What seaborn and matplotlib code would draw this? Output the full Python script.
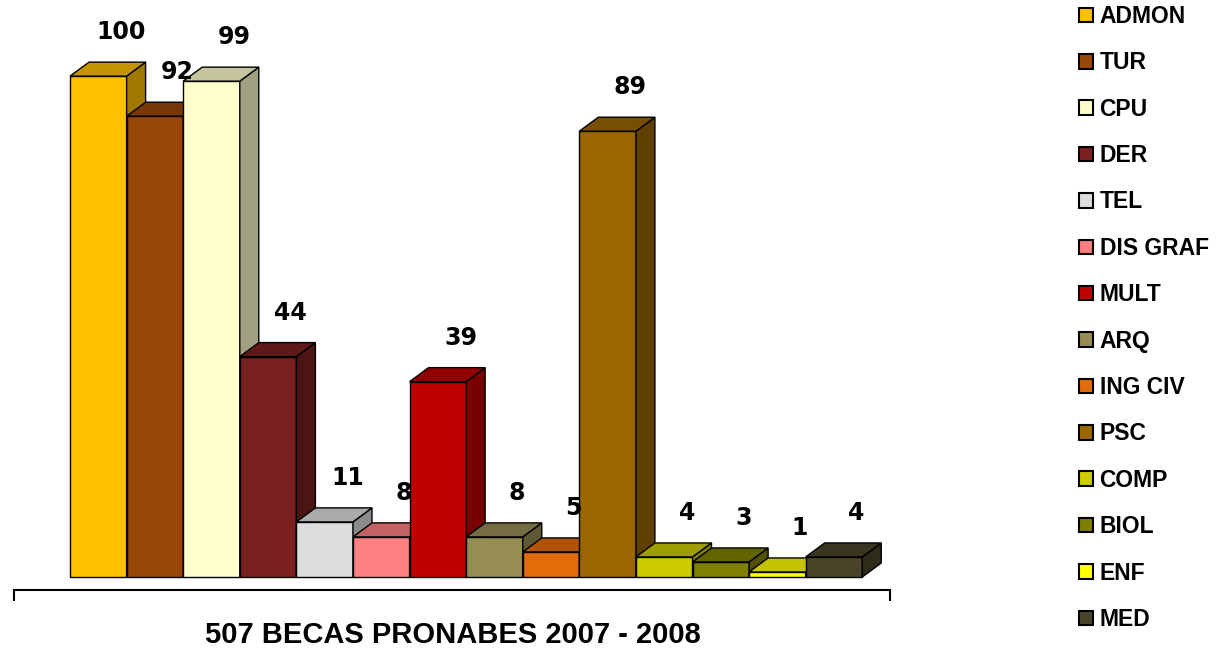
import numpy as np
import pandas as pd
import matplotlib
matplotlib.use('Agg')
import matplotlib.pyplot as plt
import seaborn as sns
from matplotlib.patches import Polygon
from matplotlib.colors import to_rgb

carreras = ['ADMON', 'TUR', 'CPU', 'DER', 'TEL', 'DIS GRAF', 'MULT',
            'ARQ', 'ING CIV', 'PSC', 'COMP', 'BIOL', 'ENF', 'MED']
becas = [100, 92, 99, 44, 11, 8, 39, 8, 5, 89, 4, 3, 1, 4]
colores = ['#FFC000', '#994709', '#FFFFCC', '#7B2020', '#DDDDDD', '#FF8080', '#C00000',
           '#968C56', '#E36C0A', '#996600', '#CCCC00', '#808000', '#FFFF00', '#4A452A']
titulo = '507 BECAS PRONABES 2007 - 2008'

letra = ['Liberation Sans', 'DejaVu Sans']

sns.set_style('white')
plt.rcParams['text.color'] = 'black'
W, H = 1218, 650
fig = plt.figure(figsize=(W / 100, H / 100), dpi=100)
ax = fig.add_axes([14 / W, 60 / H, 876 / W, 590 / H])

df = pd.DataFrame({'carrera': carreras, 'becas': becas})
sns.barplot(data=df, x='carrera', y='becas', hue='carrera', palette=colores,
            saturation=1, width=1.0, edgecolor='black', linewidth=1,
            legend=True, ax=ax)

xmin, xmax = -1.49, 13.99
ymin, ymax = -2.6, 115.2
ax.set_xlim(xmin, xmax)
ax.set_ylim(ymin, ymax)

# profundidad del efecto 3D (en pixeles -> unidades de datos)
dx = 19 / (876 / (xmax - xmin))
dy = 14 / (590 / (ymax - ymin))


def oscuro(c, f):
    r, g, b = to_rgb(c)
    return (r * f, g * f, b * f)


barras = [p for cont in ax.containers for p in cont]
barras = sorted(barras, key=lambda p: p.get_x())
for i, (p, c, v) in enumerate(zip(barras, colores, becas)):
    x0, w, h = p.get_x(), p.get_width(), p.get_height()
    p.set_zorder(3 + 3 * i)
    tapa = Polygon([(x0, h), (x0 + dx, h + dy), (x0 + w + dx, h + dy), (x0 + w, h)],
                   closed=True, fc=oscuro(c, 0.77), ec='black', lw=1, zorder=4 + 3 * i)
    lado = Polygon([(x0 + w, 0), (x0 + w, h), (x0 + w + dx, h + dy), (x0 + w + dx, dy)],
                   closed=True, fc=oscuro(c, 0.63), ec='black', lw=1, zorder=4 + 3 * i)
    ax.add_patch(lado)
    ax.add_patch(tapa)
    ax.text(x0 + w / 2 + 0.4, h + 8.8, str(v), ha='center', va='center', color='black',
            fontsize=17, fontweight='bold', family='DejaVu Sans', zorder=100)

sns.despine(ax=ax, left=True)
ax.spines['bottom'].set_linewidth(1.5)
ax.spines['bottom'].set_color('black')
ax.set_xticks([xmin, xmax])
ax.set_xticklabels(['', ''])
ax.tick_params(axis='x', bottom=True, length=8, width=1.5, direction='out', color='black')
ax.set_yticks([])
ax.set_xlabel('')
ax.set_ylabel('')

sns.move_legend(ax, 'upper left', bbox_to_anchor=(1079 / W, 1 - 5 / H),
                bbox_transform=fig.transFigure, frameon=False, title=None,
                prop={'weight': 'bold', 'size': 16.5, 'family': letra},
                labelspacing=1.02, handlelength=0.6, handleheight=0.6,
                handletextpad=0.3, borderpad=0, borderaxespad=0)
leg = ax.get_legend()
for hnd in leg.legend_handles:
    hnd.set_edgecolor('black')
    hnd.set_linewidth(1.5)
for t in leg.get_texts():
    t.set_color('black')

fig.text(453 / W, 1 - 635 / H, titulo, ha='center', va='center', color='black',
         fontsize=21, fontweight='bold', family=letra)

fig.savefig('out.png', dpi=100)
